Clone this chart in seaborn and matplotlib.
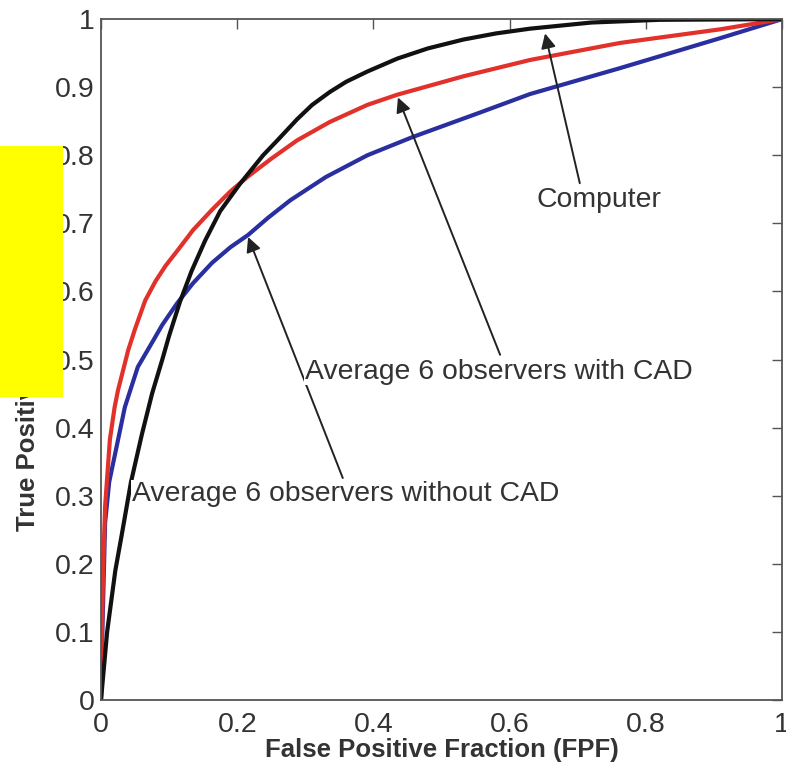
import pandas as pd
import seaborn as sns
import matplotlib
matplotlib.use("Agg")
import matplotlib.pyplot as plt
from matplotlib.patches import Rectangle

# Data -----------------------------------------------------------------------
comp_fpf = [0, 0.009, 0.021, 0.030, 0.044, 0.060, 0.075, 0.090, 0.100, 0.116,
            0.133, 0.153, 0.175, 0.204, 0.238, 0.260, 0.288, 0.310, 0.336,
            0.360, 0.391, 0.435, 0.480, 0.532, 0.580, 0.630, 0.72, 0.82, 1.0]
comp_tpf = [0, 0.10, 0.19, 0.24, 0.32, 0.39, 0.45, 0.50, 0.535, 0.585,
            0.630, 0.675, 0.718, 0.758, 0.800, 0.823, 0.853, 0.874, 0.893,
            0.908, 0.923, 0.942, 0.957, 0.970, 0.979, 0.986, 0.995, 0.999, 1.0]

cad_fpf = [0, 0.001, 0.003, 0.006, 0.013, 0.020, 0.025, 0.040, 0.050, 0.065,
           0.080, 0.095, 0.113, 0.135, 0.163, 0.190, 0.216, 0.250, 0.288,
           0.336, 0.391, 0.435, 0.532, 0.630, 0.762, 0.909, 1.0]
cad_tpf = [0, 0.08, 0.186, 0.284, 0.382, 0.430, 0.455, 0.514, 0.545, 0.587,
           0.615, 0.638, 0.661, 0.690, 0.720, 0.747, 0.769, 0.795, 0.822,
           0.849, 0.874, 0.889, 0.916, 0.940, 0.965, 0.985, 1.0]

nocad_fpf = [0, 0.002, 0.006, 0.012, 0.025, 0.035, 0.054, 0.075, 0.090, 0.112,
             0.135, 0.163, 0.190, 0.216, 0.245, 0.278, 0.330, 0.391, 0.458,
             0.557, 0.630, 0.762, 0.909, 1.0]
nocad_tpf = [0, 0.10, 0.26, 0.32, 0.382, 0.430, 0.489, 0.525, 0.551, 0.583,
             0.612, 0.642, 0.665, 0.683, 0.708, 0.734, 0.768, 0.800, 0.827,
             0.863, 0.890, 0.928, 0.972, 1.0]

x_ticks = [0, 0.2, 0.4, 0.6, 0.8, 1]
x_tick_labels = ["0", "0.2", "0.4", "0.6", "0.8", "1"]
y_ticks = [0, 0.1, 0.2, 0.3, 0.4, 0.5, 0.6, 0.7, 0.8, 0.9, 1]
y_tick_labels = ["0", "0.1", "0.2", "0.3", "0.4", "0.5", "0.6", "0.7",
                 "0.8", "0.9", "1"]

curves = pd.concat([
    pd.DataFrame({"FPF": nocad_fpf, "TPF": nocad_tpf, "Reader": "nocad"}),
    pd.DataFrame({"FPF": cad_fpf, "TPF": cad_tpf, "Reader": "cad"}),
    pd.DataFrame({"FPF": comp_fpf, "TPF": comp_tpf, "Reader": "computer"}),
], ignore_index=True)
colors = {"nocad": "#2a2fa0", "cad": "#e2302a", "computer": "#111111"}

# Style ------------------------------------------------------------------------
sns.set_style("white")
plt.rcParams["font.family"] = ["Liberation Sans", "DejaVu Sans"]

fig = plt.figure(figsize=(7.86, 7.65), dpi=100)
ax = fig.add_axes([0.1285, 0.085, 0.8665, 0.89])

sns.lineplot(data=curves, x="FPF", y="TPF", hue="Reader", palette=colors,
             sort=False, estimator=None, linewidth=3.0, ax=ax, legend=False,
             solid_joinstyle="round", solid_capstyle="round")

# Axes ---------------------------------------------------------------------------
ax.set_xlim(0, 1)
ax.set_ylim(0, 1)
ax.set_xticks(x_ticks)
ax.set_xticklabels(x_tick_labels)
ax.set_yticks(y_ticks)
ax.set_yticklabels(y_tick_labels)
ax.tick_params(direction="in", length=7, width=1.0, color="#555555",
               labelsize=20.5, labelcolor="#333333", top=True, right=True)
ax.tick_params(axis="x", pad=9)
ax.tick_params(axis="y", pad=4.5)
for s in ax.spines.values():
    s.set_color("#555555")
    s.set_linewidth(1.3)
ax.set_xlabel("False Positive Fraction (FPF)", fontsize=18.5, fontweight="bold",
              color="#333333", labelpad=0)
ax.set_ylabel("True Positive Fraction (TPF)", fontsize=18.5, fontweight="bold",
              color="#333333")
ax.yaxis.set_label_coords(-0.089, 0.5)

# Annotations --------------------------------------------------------------------
arrow = dict(arrowstyle="-|>", color="#222222", lw=1.4, mutation_scale=22,
             shrinkA=0, shrinkB=0)
ax.annotate("", xy=(0.652, 0.979), xytext=(0.703, 0.759), arrowprops=arrow)
ax.annotate("", xy=(0.436, 0.885), xytext=(0.586, 0.507), arrowprops=arrow)
ax.annotate("", xy=(0.216, 0.680), xytext=(0.355, 0.326), arrowprops=arrow)

txt = dict(fontsize=20.4, color="#333333", ha="left", va="center",
           bbox=dict(facecolor="white", edgecolor="none", pad=0.5))
ax.text(0.640, 0.734, "Computer", **txt)
ax.text(0.2996, 0.482, "Average 6 observers with CAD", **txt)
ax.text(0.0455, 0.3025, "Average 6 observers without CAD", **txt)

# Yellow box over the left edge, as in the reference
fig.patches.append(Rectangle((0, 0.481), 0.080, 0.328, transform=fig.transFigure,
                             facecolor="#ffff00", edgecolor="none", zorder=10))

fig.savefig("out.png", dpi=100)
